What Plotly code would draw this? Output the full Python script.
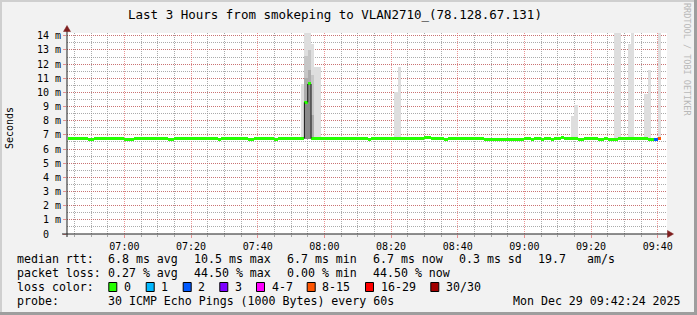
import plotly.graph_objects as go
import pandas as pd

# ---------------- data ----------------
DAY = "2025-12-29 "
first_minute = "06:43"          # first median sample (one per minute)

# median RTT in ms, one value per minute from 06:43 to 09:40
median_ms = [
    6.75, 6.75, 6.75, 6.75, 6.75, 6.75, 6.68, 6.68, 6.75, 6.75,   # 06:43
    6.75, 6.75, 6.75, 6.75, 6.75, 6.75, 6.75, 6.68, 6.68, 6.68,   # 06:53
    6.75, 6.75, 6.75, 6.75, 6.75, 6.75, 6.75, 6.75, 6.75, 6.75,   # 07:03
    6.68, 6.68, 6.75, 6.75, 6.75, 6.75, 6.75, 6.75, 6.75, 6.75,   # 07:13
    6.75, 6.75, 6.75, 6.75, 6.75, 6.68, 6.75, 6.75, 6.75, 6.75,   # 07:23
    6.75, 6.75, 6.75, 6.75, 6.68, 6.68, 6.75, 6.75, 6.75, 6.75,   # 07:33
    6.75, 6.75, 6.68, 6.75, 6.75, 6.75, 6.75, 6.75, 6.75, 6.75,   # 07:43
    6.75, 9.30, 10.60, 6.75, 6.75, 6.75, 6.75, 6.75, 6.75, 6.75,  # 07:53
    6.75, 6.75, 6.75, 6.75, 6.75, 6.75, 6.75, 6.75, 6.75, 6.75,   # 08:03
    6.68, 6.75, 6.75, 6.75, 6.75, 6.75, 6.75, 6.75, 6.75, 6.75,   # 08:13
    6.75, 6.75, 6.75, 6.75, 6.75, 6.75, 6.75, 6.82, 6.82, 6.75,   # 08:23
    6.75, 6.75, 6.75, 6.68, 6.75, 6.75, 6.75, 6.75, 6.75, 6.75,   # 08:33
    6.75, 6.75, 6.75, 6.75, 6.75, 6.68, 6.68, 6.68, 6.68, 6.68,   # 08:43
    6.68, 6.68, 6.68, 6.68, 6.68, 6.68, 6.68, 6.75, 6.75, 6.68,   # 08:53
    6.75, 6.75, 6.68, 6.75, 6.75, 6.68, 6.75, 6.75, 6.82, 6.75,   # 09:03
    6.75, 6.75, 6.75, 6.68, 6.68, 6.75, 6.75, 6.75, 6.75, 6.68,   # 09:13
    6.68, 6.75, 6.68, 6.68, 6.68, 6.75, 6.75, 6.75, 6.75, 6.75,   # 09:23
    6.75, 6.75, 6.75, 6.75, 6.68, 6.68, 6.68, 6.75,               # 09:33
]

# minutes with packet loss (pings lost out of 30)
loss_minutes = ["09:39", "09:40"]
loss_pings = [2, 13]

# smoke (ping spread): minutes with visible spread, lowest and highest ping
smoke_minutes = ["07:53", "07:54", "07:55", "07:56", "07:57", "07:58",
                 "08:21", "08:22", "09:14", "09:15", "09:27", "09:28",
                 "09:31", "09:32", "09:36", "09:37", "09:40"]
smoke_min = [6.70, 6.70, 6.70, 6.70, 6.70, 6.70,
             6.70, 6.70, 6.70, 6.70, 6.70, 6.70,
             6.70, 6.70, 6.70, 6.70, 6.70]
smoke_max = [10.6, 14.6, 14.6, 13.4, 11.8, 11.8,
             10.05, 11.8, 8.35, 9.1, 14.6, 14.6,
             13.4, 14.6, 9.9, 11.6, 14.6]

# inner (denser) smoke bands during the spike
band_minutes = ["07:54", "07:55", "07:56"]
band1_top = [12.6, 13.0, 11.2]
band2_top = [11.0, 11.6, 8.4]
band3_top = [9.3, 10.6, 6.8]

loss_labels = ["0", "1", "2", "3", "4-7", "8-15", "16-29", "30/30"]
loss_colors = ["#26ff00", "#00b8ff", "#0059ff", "#7e00ff",
               "#ff00ff", "#ff5500", "#ff0000", "#a10000"]
loss_upper = [0, 1, 2, 3, 7, 15, 29, 30]

y_ticks = list(range(0, 15))
y_tick_text = ["0\u00a0\u00a0"] + [f"{v} m" for v in y_ticks[1:]]

title_text = "Last 3 Hours from smokeping to VLAN2710_(78.128.67.131)"
stat_rows = [
    ("median rtt:", ["6.8 ms avg", "10.5 ms max", "6.7 ms min", "6.7 ms now", "0.3 ms sd", "19.7", "am/s"]),
    ("packet loss:", ["0.27 % avg", "44.50 % max", "0.00 % min", "44.50 % now"]),
]
probe_text = "30 ICMP Echo Pings (1000 Bytes) every 60s"
stamp_text = "Mon Dec 29 09:42:24 2025"
range_start = DAY + "06:42:47"
range_end = DAY + "09:42:47"

# ---------------- layout geometry ----------------
W, H = 697, 315
L, R, T, B = 67, 30, 33, 81
PW, PH = W - L - R, H - T - B
def xp(px): return (px - L) / PW
def yp(py): return (H - B - py) / PH

MONO = "DejaVu Sans Mono"
MIN_MS = 60000

times = pd.date_range(DAY + first_minute, periods=len(median_ms), freq="1min")
def ts(hm): return pd.Timestamp(DAY + hm)

def loss_color(n):
    for up, c in zip(loss_upper, loss_colors):
        if n <= up:
            return c
    return loss_colors[-1]

loss_map = {ts(m): n for m, n in zip(loss_minutes, loss_pings)}
med_colors = [loss_color(loss_map.get(t, 0)) for t in times]

fig = go.Figure()

# smoke
smoke_x = [ts(m) for m in smoke_minutes]
fig.add_trace(go.Bar(x=smoke_x, y=[hi - lo for lo, hi in zip(smoke_min, smoke_max)],
                     base=smoke_min, width=MIN_MS, offset=0,
                     marker=dict(color="#dedede", line=dict(width=0))))
band_x = [ts(m) for m in band_minutes]
for tops, col in [(band1_top, "#c6c6c6"), (band2_top, "#acacac"), (band3_top, "#8a8a8a")]:
    fig.add_trace(go.Bar(x=band_x, y=[t - 6.7 for t in tops], base=[6.7] * len(tops),
                         width=MIN_MS, offset=0,
                         marker=dict(color=col, line=dict(width=0))))

# step connectors of the median where it jumps
cx, cy = [], []
for i in range(1, len(median_ms)):
    if abs(median_ms[i] - median_ms[i - 1]) > 0.5:
        cx += [times[i], times[i], None]
        cy += [median_ms[i - 1], median_ms[i], None]
fig.add_trace(go.Scatter(x=cx, y=cy, mode="lines",
                         line=dict(color="#1a1a1a", width=1)))

# median line (3 px thick segments, coloured by loss)
thick = 3 / PH * 14.2
fig.add_trace(go.Bar(x=times, y=[thick] * len(times),
                     base=[v - thick / 2 for v in median_ms],
                     width=MIN_MS, offset=0,
                     marker=dict(color=med_colors, line=dict(width=0))))

major = "rgba(222,79,79,0.6)"
minor = "rgba(143,143,143,0.75)"

fig.update_layout(
    width=W, height=H,
    margin=dict(l=L, r=R, t=T, b=B, pad=0),
    paper_bgcolor="#F2F2F2", plot_bgcolor="#FFFFFF",
    barmode="overlay", bargap=0, showlegend=False,
    font=dict(family=MONO, color="#000000", size=10),
    xaxis=dict(type="date", range=[range_start, range_end],
               tickmode="linear", tick0=DAY + "07:00", dtick=20 * MIN_MS,
               tickformat="%H:%M", tickfont=dict(size=10, family=MONO),
               showgrid=True, gridcolor=major, griddash="1px,1px", gridwidth=1,
               ticks="outside", ticklen=3, tickcolor=major,
               minor=dict(tickmode="linear", tick0=DAY + "07:00", dtick=5 * MIN_MS,
                          showgrid=True, gridcolor=minor, griddash="1px,1px",
                          ticks="outside", ticklen=2, tickcolor=minor),
               zeroline=False, showline=False, fixedrange=True),
    yaxis=dict(range=[0, 14.2], tickmode="array", tickvals=y_ticks, ticktext=y_tick_text,
               tickfont=dict(size=10, family=MONO),
               showgrid=True, gridcolor=major, griddash="1px,1px", gridwidth=1,
               ticks="outside", ticklen=3, tickcolor=major,
               minor=dict(tickmode="linear", tick0=0, dtick=0.5, showgrid=True,
                          gridcolor=minor, griddash="1px,1px"),
               zeroline=False, showline=False, fixedrange=True),
)

shapes = []
# 3D frame
shapes.append(dict(type="rect", xref="paper", yref="paper", x0=xp(0), x1=xp(2), y0=yp(315), y1=yp(0),
                   fillcolor="#CFCFCF", line=dict(width=0), layer="above"))
shapes.append(dict(type="rect", xref="paper", yref="paper", x0=xp(0), x1=xp(697), y0=yp(2), y1=yp(0),
                   fillcolor="#CFCFCF", line=dict(width=0), layer="above"))
shapes.append(dict(type="rect", xref="paper", yref="paper", x0=xp(694), x1=xp(697), y0=yp(315), y1=yp(0),
                   fillcolor="#9E9E9E", line=dict(width=0), layer="above"))
shapes.append(dict(type="rect", xref="paper", yref="paper", x0=xp(0), x1=xp(697), y0=yp(315), y1=yp(312),
                   fillcolor="#9E9E9E", line=dict(width=0), layer="above"))
# axes
shapes.append(dict(type="line", xref="paper", yref="paper", x0=xp(62), x1=xp(669), y0=yp(234), y1=yp(234),
                   line=dict(color="#1F1F1F", width=1), layer="above"))
shapes.append(dict(type="line", xref="paper", yref="paper", x0=xp(67), x1=xp(67), y0=yp(237), y1=yp(30),
                   line=dict(color="#1F1F1F", width=1), layer="above"))
# arrows
shapes.append(dict(type="path", xref="paper", yref="paper",
                   path=f"M {xp(667.5)} {yp(230.5)} L {xp(673.5)} {yp(234)} L {xp(667.5)} {yp(237.5)} Z",
                   fillcolor="#7F1F1F", line=dict(color="#7F1F1F", width=0.5), layer="above"))
shapes.append(dict(type="path", xref="paper", yref="paper",
                   path=f"M {xp(63.5)} {yp(31.5)} L {xp(67)} {yp(25.5)} L {xp(70.5)} {yp(31.5)} Z",
                   fillcolor="#7F1F1F", line=dict(color="#7F1F1F", width=0.5), layer="above"))

ann = []
def text(px, py, s, size=11.6, anchor="left", color="#000000", angle=0):
    ann.append(dict(x=xp(px), y=yp(py), xref="paper", yref="paper", text=s, showarrow=False,
                    xanchor=anchor, yanchor="middle", textangle=angle,
                    font=dict(family=MONO, size=size, color=color), borderpad=0))

text(127, 14, title_text, size=12.5)
text(10, 128, "Seconds", size=10, anchor="center", angle=-90)
text(687, 59, "RRDTOOL / TOBI OETIKER", size=8.5, anchor="center", color="#b8b8b8", angle=90)

row_y = [259.3, 273.3, 287.3, 301]
stat_x = [107.3, 193.3, 286.7, 372.3, 458.3, 537.7, 586.7]
for (label, items), y in zip(stat_rows, row_y):
    text(15.5, y, label)
    for x, s in zip(stat_x, items):
        text(x - 0.5, y, s)

text(15.5, row_y[2], "loss color:")
box_x = [108.3, 145.7, 182.7, 219.3, 256, 306.7, 365, 430.3]
for bx, lab, col in zip(box_x, loss_labels, loss_colors):
    shapes.append(dict(type="rect", xref="paper", yref="paper", x0=xp(bx + 0.5), x1=xp(bx + 8.5),
                       y0=yp(291.5), y1=yp(282.5), fillcolor=col,
                       line=dict(color="#000000", width=1), layer="above"))
    text(bx + 14.5, row_y[2], lab)

text(15.5, row_y[3], "probe:")
text(106.8, row_y[3], probe_text)
text(512.2, row_y[3], stamp_text)

fig.update_layout(shapes=shapes, annotations=ann)
fig.write_html("out.html")
